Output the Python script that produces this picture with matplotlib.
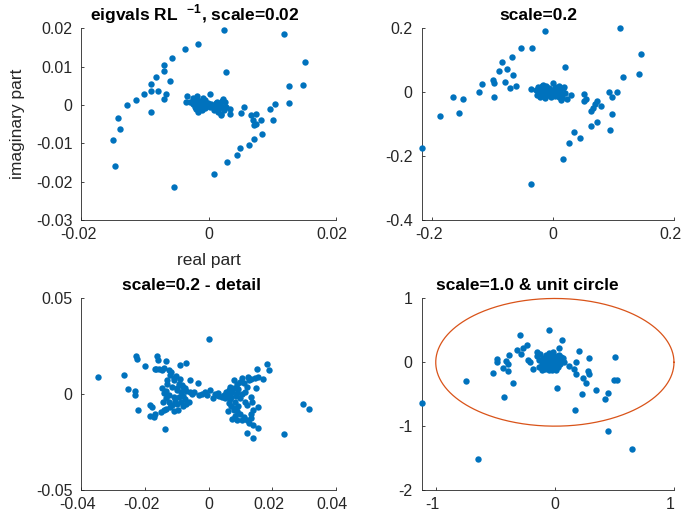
import numpy as np
import matplotlib
matplotlib.use("Agg")
import matplotlib.pyplot as plt
from matplotlib.transforms import ScaledTranslation

# eigenvalue estimates: (real, imag)
# panel 1, units of 1e-3
p1_pts = [(2.4, 19.6), (11.9, 18.5), (-1.6, 16.0), (-3.7, 14.6), (-5.7, 12.4), (15.2, 11.2),
          (-7.0, 10.4), (2.7, 8.6), (-7.0, 8.9), (-8.3, 7.4), (-6.0, 6.3), (-9.1, 5.4),
          (12.7, 4.9), (14.8, 5.2), (-9.1, 3.8), (-7.9, 3.8), (-10.2, 3.0), (-6.7, 2.9),
          (-11.5, 1.3), (-7.0, 1.6), (0.3, 2.9), (-12.9, -0.1), (12.6, 0.5), (10.5, 0.3),
          (9.6, -0.9), (-9.1, -1.7), (-14.2, -3.3), (-13.9, -6.2), (-15.1, -9.0), (-14.7, -15.8),
          (-5.5, -21.5), (0.8, -18.1), (2.9, -14.8), (4.5, -13.1), (4.9, -11.3), (6.4, -10.3),
          (7.2, -8.9), (8.4, -7.6), (10.1, -3.8), (8.3, -4.0), (5.5, -0.6), (5.1, -2.1),
          (3.3, -2.4), (3.3, -0.9), (6.6, -2.6), (7.4, -2.4), (7.0, -3.9), (7.1, -5.2),
          (7.5, -5.0), (-3.4, 2.4), (-3.5, 0.9),
          (-2.9, 0.7), (-2.5, 0.2), (-2.2, 1.1), (-2.0, 1.8), (-1.8, 0.5), (-1.7, -0.4),
          (-1.5, -1.3), (-1.6, -1.9), (-1.3, 1.1), (-1.2, 0.0), (-0.9, 1.8), (-0.8, 0.7),
          (-0.6, -0.7), (-0.4, 0.2), (-0.3, -0.2), (-0.1, 0.5), (0.1, 0.0), (0.3, -0.4),
          (0.4, 0.2), (0.6, -0.2), (0.8, -0.8), (0.9, -1.3), (1.1, 0.5), (1.2, -0.5),
          (1.4, 0.7), (1.5, -1.7), (1.6, 0.0), (1.7, -0.8), (1.9, -2.2), (2.0, -2.6),
          (2.1, 1.1), (2.3, 1.6), (2.4, -1.3), (2.6, 0.7), (2.7, -0.4), (-2.2, -0.4),
          (-2.0, -1.0), (-1.1, -1.3), (-2.4, 1.9), (-1.8, 2.3), (-0.5, 1.3), (2.1, -0.4),
          (1.8, 0.5)]

# panel 2, units of 1e-2
p2_pts = [(-21.75, -17.4), (-1.3, 19.1), (11.0, 20.2), (14.6, 12.0), (-5.3, 13.9), (-3.5, 14.0),
          (-6.8, 11.0), (-8.5, 9.6), (-7.7, 7.4), (-8.9, 6.7), (2.0, 7.8), (-6.7, 5.5),
          (-9.9, 3.9), (-9.8, 2.9), (-7.9, 3.3), (-11.8, 2.6), (-7.1, 1.5), (-6.1, 2.1),
          (-12.3, 0.2), (-3.6, 0.9), (-0.1, 2.8), (11.6, 4.7), (14.2, 5.6), (-16.5, -1.4),
          (-14.9, -2.1), (-9.8, -1.6), (-18.7, -7.5), (-15.6, -6.5), (9.3, 0.2), (10.6, 0.2),
          (9.8, -1.6), (5.1, -0.5), (3.0, -0.7), (2.3, -2.2), (5.1, -2.6), (5.4, -2.1),
          (7.2, -2.6), (7.0, -3.7), (7.9, -4.3), (6.6, -4.9), (6.2, -6.0), (9.7, -6.9),
          (7.3, -9.2), (6.3, -10.4), (9.4, -11.9), (3.5, -12.3), (4.5, -14.2), (2.7, -15.8),
          (1.7, -20.9), (-3.6, -28.7),
          (-2.8, 0.8), (-2.5, 1.6), (-2.4, -0.2), (-2.2, 0.5), (-2.0, -0.7), (-1.9, 1.9),
          (-1.8, 0.1), (-1.6, -1.3), (-1.5, 1.2), (-1.4, -1.8), (-1.2, -0.3), (-1.1, 0.5),
          (-0.9, -0.9), (-0.7, 1.4), (-0.6, -0.2), (-0.4, 0.3), (-0.2, -0.7), (-0.1, 0.7),
          (0.2, 0.0), (0.3, -1.3), (0.5, 0.4), (0.7, -0.5), (0.8, 0.9), (1.0, -1.6),
          (1.2, 0.1), (1.3, -2.4), (1.4, -0.9), (1.6, 1.2), (1.8, 1.6), (1.9, -0.2),
          (-2.2, -1.6), (-2.6, -0.9), (-1.7, 2.4), (-1.1, 2.0), (0.3, 1.6), (1.4, -1.8),
          (0.9, 1.9), (-0.3, -1.6)]

# panel 3, units of 1e-3
p3_pts = [(-34.9, 9.2), (-26.5, 10.1), (-25.4, 2.6), (-23.2, 1.7), (-23.2, -0.5), (-22.8, 20.0),
          (-22.5, 18.2), (-20.0, 14.9), (-22.1, -8.3), (-16.1, 20.1), (-15.9, 17.9), (-13.4, 17.4),
          (-17.0, 13.0), (-15.5, 13.4), (-14.0, 13.9), (-12.6, 12.7), (-11.9, 11.5), (-9.1, 15.5),
          (-7.0, 16.1), (-10.4, 9.5), (-13.2, 7.5), (-9.1, 7.8), (-5.8, 7.3), (-8.3, 5.0),
          (-3.4, 5.7), (-14.6, 3.1), (-13.3, 1.9), (-11.5, 3.6), (-9.8, 3.0), (-8.6, 1.2),
          (-7.1, 1.9), (-5.3, 0.2), (-3.1, -0.3), (-1.0, 1.0), (0.0, 28.6), (0.6, 2.3),
          (1.3, -2.1), (2.1, 0.2), (3.4, -0.9), (4.7, -0.3), (6.1, 0.0), (6.8, 3.6),
          (7.3, 1.4), (7.9, 7.5), (8.9, 5.4), (9.4, 2.8), (10.5, 8.5), (11.3, 6.1),
          (12.0, 3.6), (12.6, 7.5), (13.3, 8.0), (14.7, 8.3), (15.3, 13.4), (14.8, 3.0),
          (17.1, 8.0), (18.3, 15.6), (19.1, 12.7), (-13.4, -2.1), (-14.5, -3.8), (-18.4, -5.6),
          (-17.8, -6.8), (-18.5, -11.6), (-16.8, -10.2), (-17.1, -11.8), (-14.0, -8.3), (-13.6, -18.2),
          (-10.9, -9.0), (-9.6, -8.2), (-9.9, -5.2), (-8.6, -3.8), (-7.3, -2.6), (-6.3, -3.8),
          (6.3, -4.7), (6.6, -2.6), (7.1, -6.4), (7.9, -8.2), (6.1, -8.7), (8.2, -11.3),
          (8.9, -13.4), (10.5, -13.4), (11.5, -3.8), (12.2, -5.6), (13.3, -1.2), (13.3, -10.1),
          (13.3, -12.5), (13.9, -16.3), (15.4, -17.7), (15.7, -6.9), (12.0, -20.1), (14.1, -22.9),
          (23.8, -21.0), (29.8, -5.0), (31.6, -7.6),
          (-4.7, 1.4), (-2.1, 0.2), (-0.5, -0.3), (3.1, 0.5), (4.2, -1.2), (5.2, -2.1),
          (-7.9, -0.9), (-9.4, -1.2), (-10.5, -3.3), (-11.5, -5.6), (-12.6, -3.8), (-12.4, -0.3),
          (-9.4, 5.4), (-10.9, 7.5), (8.4, -3.8), (9.4, -6.4), (10.5, 0.2), (11.5, 1.4),
          (9.9, 6.6), (13.6, -3.8), (7.3, -13.0), (12.6, -15.1),
          (-16.5, 13.2), (-14.8, 12.5), (-12.0, 10.0), (-11.0, 8.5), (-8.0, 4.0), (-7.5, 3.0),
          (-6.0, 1.0), (-10.0, 2.0), (-11.0, -1.5), (-12.0, -6.5), (-13.5, -7.5), (-15.0, -9.5),
          (-8.0, -6.0), (-7.0, -5.0), (-13.0, 5.5), (-14.0, 0.5), (2.5, -0.5), (5.5, 1.0),
          (6.5, 2.0), (8.0, 3.5), (9.0, 0.8), (10.0, -2.0), (8.0, -7.0), (9.0, -9.0),
          (10.0, -10.5), (11.0, -12.0), (12.0, -13.5), (14.0, -8.0), (12.5, 9.0), (15.5, 9.2),
          (7.0, -1.5), (8.5, -1.0)]

# panel 4
p4_pts = [(-1.118, -0.63), (-0.643, -1.52), (0.648, -1.36), (0.443, -1.08), (-0.744, -0.30),
          (-0.426, -0.54), (-0.351, -0.32), (-0.516, -0.16), (-0.485, 0.05), (-0.483, 0.0),
          (-0.387, 0.11), (-0.407, 0.02), (-0.393, -0.02), (-0.438, -0.09), (-0.393, -0.14),
          (-0.320, 0.19), (-0.292, 0.43), (-0.269, 0.22), (-0.283, 0.13), (-0.230, 0.27),
          (-0.224, 0.04), (-0.210, 0.01), (-0.180, -0.11), (-0.154, 0.16), (-0.048, 0.51),
          (0.056, 0.35), (0.031, 0.23), (0.022, -0.41), (0.205, 0.18), (0.283, 0.06),
          (0.174, 0.01), (0.118, -0.06), (0.160, -0.11), (0.180, -0.19), (0.239, -0.24),
          (0.278, -0.13), (0.286, -0.19), (0.258, -0.33), (0.230, -0.49), (0.166, -0.74),
          (0.342, -0.44), (0.418, -0.57), (0.449, -0.48), (0.499, -0.28), (0.519, -0.28),
          (0.502, 0.08), (-0.104, -0.125),
          (-0.149, 0.094), (-0.135, 0.031), (-0.123, 0.135), (-0.112, -0.031), (-0.101, 0.073),
          (-0.090, 0.005), (-0.084, -0.099), (-0.076, 0.109), (-0.067, 0.042), (-0.059, -0.047),
          (-0.051, 0.146), (-0.042, 0.073), (-0.036, -0.010), (-0.028, -0.115), (-0.022, 0.031),
          (-0.017, 0.109), (-0.008, -0.047), (0.0, 0.057), (0.006, -0.125), (0.014, 0.005),
          (0.020, 0.094), (0.028, -0.073), (0.034, 0.042), (0.042, -0.021), (0.051, 0.083),
          (0.062, 0.031), (0.070, 0.073), (0.079, 0.005), (-0.051, -0.125), (-0.065, 0.005),
          (-0.036, -0.073), (0.006, -0.021), (-0.093, -0.047), (-0.017, 0.161), (0.034, 0.109),
          (-0.129, -0.073)]

titles = [r"eigvals RL  $^{\mathbf{-1}}$, scale=0.02", "scale=0.2", "scale=0.2 - detail",
          "scale=1.0 & unit circle"]
title_x = [0.4465, 0.461, 0.433, 0.417]
units = [1e-3, 1e-2, 1e-3, 1.0]
xlims = [(-0.02, 0.02), (-0.2175, 0.2), (-0.04, 0.04), (-1.118, 1.0)]
ylims = [(-0.03, 0.02), (-0.4, 0.2), (-0.05, 0.05), (-2.0, 1.0)]
xticks = [[-0.02, 0, 0.02], [-0.2, 0, 0.2], [-0.04, -0.02, 0, 0.02, 0.04], [-1, 0, 1]]
xtlabels = [["-0.02", "0", "0.02"], ["-0.2", "0", "0.2"],
            ["-0.04", "-0.02", "0", "0.02", "0.04"], ["-1", "0", "1"]]
yticks = [[-0.03, -0.02, -0.01, 0, 0.01, 0.02], [-0.4, -0.2, 0, 0.2], [-0.05, 0, 0.05], [-2, -1, 0, 1]]
ytlabels = [["-0.03", "-0.02", "-0.01", "0", "0.01", "0.02"], ["-0.4", "-0.2", "0", "0.2"],
            ["-0.05", "0", "0.05"], ["-2", "-1", "0", "1"]]

plt.rcParams["font.family"] = ["Liberation Sans", "DejaVu Sans"]
plt.rcParams["mathtext.fontset"] = "custom"
plt.rcParams["mathtext.rm"] = "Liberation Sans"
plt.rcParams["mathtext.bf"] = "Liberation Sans:bold"
plt.rcParams["axes.unicode_minus"] = False

blue = "#0072BD"
orange = "#D95319"
axc = "#262626"

fig = plt.figure(figsize=(6.83, 5.19), dpi=100)
rects = [[0.1193, 0.5761, 0.3722, 0.3690], [0.6174, 0.5761, 0.3694, 0.3690],
         [0.1193, 0.0559, 0.3722, 0.3690], [0.6174, 0.0559, 0.3694, 0.3690]]
pts_all = [p1_pts, p2_pts, p3_pts, p4_pts]
axes = []

for i in range(4):
    ax = fig.add_axes(rects[i])
    axes.append(ax)
    pts = np.array(pts_all[i]) * units[i]
    ax.plot(pts[:, 0], pts[:, 1], "o", color=blue, markersize=4.6, markeredgewidth=0,
            clip_on=False, zorder=3)
    if i == 3:
        t = np.linspace(0, 2 * np.pi, 400)
        ax.plot(np.cos(t), np.sin(t), color=orange, linewidth=0.9, clip_on=False)
    ax.set_xlim(*xlims[i])
    ax.set_ylim(*ylims[i])
    ax.set_xticks(xticks[i])
    ax.set_xticklabels(xtlabels[i])
    ax.set_yticks(yticks[i])
    ax.set_yticklabels(ytlabels[i])
    for s in ["top", "right"]:
        ax.spines[s].set_visible(False)
    for s in ["left", "bottom"]:
        ax.spines[s].set_linewidth(0.6)
        ax.spines[s].set_color(axc)
    ax.tick_params(direction="in", length=2.5, width=0.6, color=axc, labelcolor=axc,
                   labelsize=11.5)
    ax.tick_params(axis="x", pad=5)
    ax.tick_params(axis="y", pad=6.5)
    ax.set_title(titles[i], fontsize=12.5, fontweight="bold", pad=6)
    ax.title.set_x(title_x[i])
    if i == 0:
        ax.set_xlabel("real part", fontsize=12.5, color=axc)
        ax.set_ylabel("imaginary part", fontsize=12.5, color=axc)
        ax.xaxis.set_label_coords(0.5, -0.17)
        ax.yaxis.set_label_coords(-0.222, 0.5)

# nudge the wider x tick labels a little to the left, as in the original
for ax in axes:
    for lab in ax.get_xticklabels():
        if lab.get_text() != "0":
            lab.set_transform(lab.get_transform() + ScaledTranslation(-3.5 / 100, 0, fig.dpi_scale_trans))

fig.savefig("out.png", dpi=100)
